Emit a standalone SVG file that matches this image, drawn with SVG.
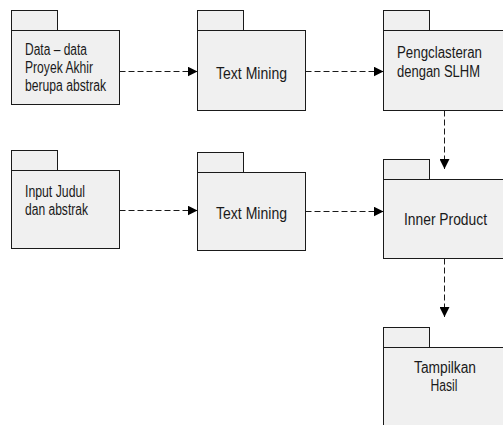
<svg xmlns="http://www.w3.org/2000/svg" width="503" height="425" viewBox="0 0 503 425">
  <style>
    .pkg { fill: #f0f0f0; stroke: #1a1a1a; stroke-width: 1; }
    .lbl { font-family: "Liberation Sans", Arial, sans-serif; font-size: 16px; fill: #1a1a1a; }
    .mid { text-anchor: middle; }
    .dep { fill: none; stroke: #1a1a1a; stroke-width: 1; stroke-dasharray: 6 3; }
  </style>
  <defs>
    <marker id="head" viewBox="0 0 10 10" refX="10" refY="5" markerWidth="10" markerHeight="10" markerUnits="userSpaceOnUse" orient="auto">
      <path d="M0,0 L10,5 L0,10 z" fill="#000"/>
    </marker>
  </defs>
  <rect width="503" height="425" fill="#fff"/>

  <!-- package: source data -->
  <g id="data-proyek-akhir">
    <rect class="pkg" x="11.5" y="10.5" width="46" height="20"/>
    <rect class="pkg" x="11.5" y="30.5" width="108" height="74"/>
    <text class="lbl" x="25" y="55" textLength="62" lengthAdjust="spacingAndGlyphs">Data – data</text>
    <text class="lbl" x="25" y="73" textLength="68" lengthAdjust="spacingAndGlyphs">Proyek Akhir</text>
    <text class="lbl" x="25" y="91" textLength="81" lengthAdjust="spacingAndGlyphs">berupa abstrak</text>
  </g>

  <!-- package: text mining (corpus) -->
  <g id="text-mining-1">
    <rect class="pkg" x="197.5" y="10.5" width="46" height="20"/>
    <rect class="pkg" x="197.5" y="30.5" width="108" height="80"/>
    <text class="lbl mid" x="251.5" y="79" textLength="71" lengthAdjust="spacingAndGlyphs">Text Mining</text>
  </g>

  <!-- package: clustering -->
  <g id="pengclasteran">
    <rect class="pkg" x="383.5" y="10.5" width="46" height="20"/>
    <rect class="pkg" x="383.5" y="30.5" width="125" height="80"/>
    <text class="lbl" x="397" y="58" textLength="85" lengthAdjust="spacingAndGlyphs">Pengclasteran</text>
    <text class="lbl" x="397" y="77" textLength="83" lengthAdjust="spacingAndGlyphs">dengan SLHM</text>
  </g>

  <!-- package: query input -->
  <g id="input-judul">
    <rect class="pkg" x="11.5" y="150.5" width="46" height="20"/>
    <rect class="pkg" x="11.5" y="170.5" width="108" height="78"/>
    <text class="lbl" x="25" y="197" textLength="60" lengthAdjust="spacingAndGlyphs">Input Judul</text>
    <text class="lbl" x="25" y="215" textLength="63" lengthAdjust="spacingAndGlyphs">dan abstrak</text>
  </g>

  <!-- package: text mining (query) -->
  <g id="text-mining-2">
    <rect class="pkg" x="197.5" y="152.5" width="46" height="20"/>
    <rect class="pkg" x="197.5" y="172.5" width="108" height="78"/>
    <text class="lbl mid" x="251.5" y="219" textLength="71" lengthAdjust="spacingAndGlyphs">Text Mining</text>
  </g>

  <!-- package: inner product -->
  <g id="inner-product">
    <rect class="pkg" x="383.5" y="159.5" width="46" height="20"/>
    <rect class="pkg" x="383.5" y="179.5" width="125" height="79"/>
    <text class="lbl mid" x="445.5" y="225" textLength="83" lengthAdjust="spacingAndGlyphs">Inner Product</text>
  </g>

  <!-- package: result display -->
  <g id="tampilkan-hasil">
    <rect class="pkg" x="383.5" y="327.5" width="46" height="20"/>
    <rect class="pkg" x="383.5" y="347.5" width="125" height="90"/>
    <text class="lbl mid" x="445" y="373" textLength="62" lengthAdjust="spacingAndGlyphs">Tampilkan</text>
    <text class="lbl mid" x="444" y="391" textLength="27" lengthAdjust="spacingAndGlyphs">Hasil</text>
  </g>

  <!-- dependencies -->
  <g id="connectors">
    <path class="dep" d="M119.5,71.5 H197.5" marker-end="url(#head)"/>
    <path class="dep" d="M305.5,71.5 H383.5" marker-end="url(#head)"/>
    <path class="dep" d="M119.5,210.5 H197.5" marker-end="url(#head)"/>
    <path class="dep" d="M305.5,211.5 H383.5" marker-end="url(#head)"/>
    <path class="dep" d="M444.5,110.5 V169" marker-end="url(#head)"/>
    <path class="dep" d="M444.5,258.5 V317" marker-end="url(#head)"/>
  </g>
</svg>
